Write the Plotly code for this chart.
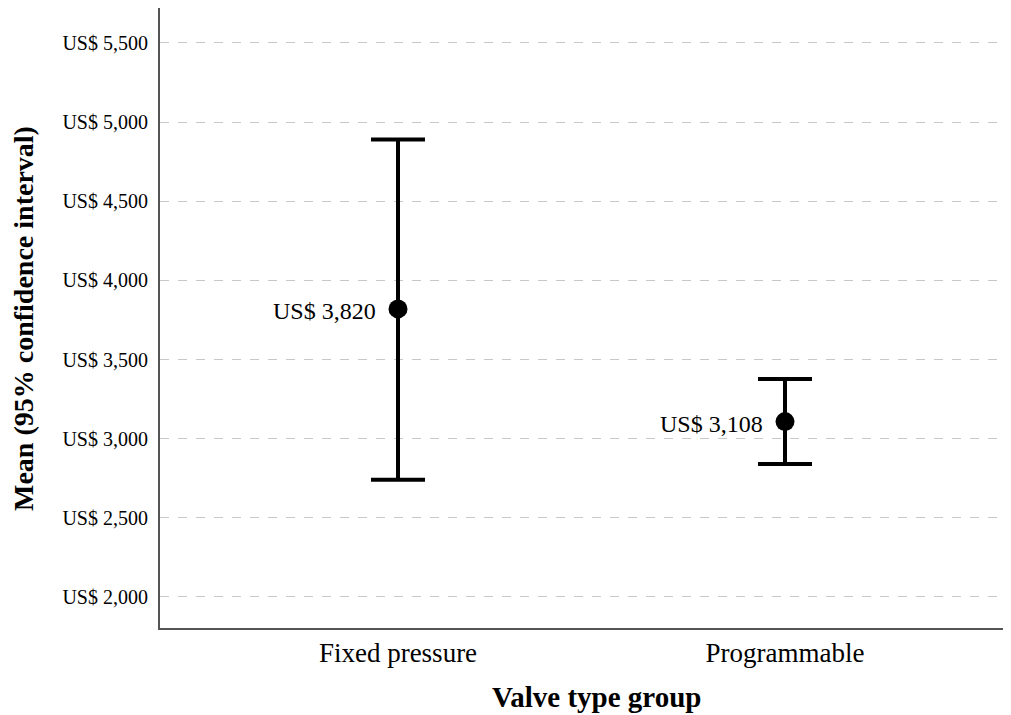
import plotly.graph_objects as go

categories = ["Fixed pressure", "Programmable"]
means = [3820, 3108]
upper = [4890, 3377]
lower = [2740, 2840]
labels = ["US$ 3,820", "US$ 3,108"]
ytick_vals = [2000, 2500, 3000, 3500, 4000, 4500, 5000, 5500]
ytick_text = ["US$ 2,000", "US$ 2,500", "US$ 3,000", "US$ 3,500",
              "US$ 4,000", "US$ 4,500", "US$ 5,000", "US$ 5,500"]

xpos = list(range(len(categories)))
err_plus = [u - m for u, m in zip(upper, means)]
err_minus = [m - l for m, l in zip(means, lower)]

FONT = "Liberation Serif"

fig = go.Figure()
fig.add_trace(go.Scatter(
    x=xpos, y=means, mode="markers",
    marker=dict(color="black", size=19),
    error_y=dict(type="data", symmetric=False, array=err_plus, arrayminus=err_minus,
                 color="black", thickness=4, width=27),
    showlegend=False, hoverinfo="skip",
))

for x, m, t in zip(xpos, means, labels):
    fig.add_annotation(x=x, y=m, text=t, showarrow=False, xanchor="right",
                       yanchor="middle", xshift=-20, yshift=-2,
                       font=dict(family=FONT, size=24, color="black"))

fig.add_annotation(text="<b>Mean (95% confidence interval)</b>", xref="paper", yref="paper",
                   x=-0.161, y=0.5, textangle=-90, showarrow=False,
                   font=dict(family=FONT, size=28, color="black"),
                   xanchor="center", yanchor="middle")
fig.add_annotation(text="<b>Valve type group</b>", xref="paper", yref="paper",
                   x=0.513, y=-0.111, showarrow=False,
                   font=dict(family=FONT, size=29, color="black"),
                   xanchor="center", yanchor="middle")

fig.update_layout(
    width=1003, height=707,
    margin=dict(l=152, r=0, t=0, b=87),
    paper_bgcolor="white", plot_bgcolor="white",
    font=dict(family=FONT, color="black"),
    xaxis=dict(range=[-0.615, 1.584], tickmode="array", tickvals=xpos,
               ticktext=categories, showgrid=False, zeroline=False,
               showline=True, linecolor="#555555", linewidth=2,
               tickfont=dict(family=FONT, size=27, color="black"),
               ticks="", ticklabelstandoff=0),
    yaxis=dict(range=[1804, 5721], tickmode="array", tickvals=ytick_vals,
               ticktext=ytick_text, showgrid=True, gridcolor="#c8c8c8",
               griddash="dash", gridwidth=1, zeroline=False,
               showline=True, linecolor="#555555", linewidth=2,
               tickfont=dict(family=FONT, size=20, color="black"),
               ticks="", ticklabelstandoff=6),
)

fig.write_html("out.html")
